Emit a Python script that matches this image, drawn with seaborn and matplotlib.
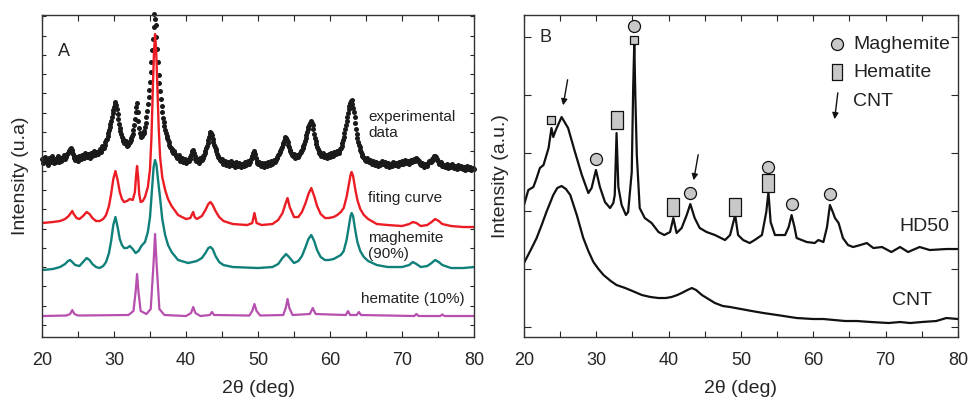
import numpy as np
import matplotlib.pyplot as plt
import seaborn as sns
from matplotlib.path import Path
from matplotlib.ticker import MultipleLocator, FixedLocator, NullFormatter

# ---------------- Panel A data (intensity in arbitrary units) ----------------
# experimental scan, 0.1 deg step from 20 to 80
exp_2theta = np.round(20 + 0.1 * np.arange(601), 1)
exp_int = [
    178, 176, 174, 179, 180, 177, 176, 174, 172, 177, 179, 176, 175, 179, 181, 177, 174, 177, 178, 175,
    176, 179, 181, 177, 175, 178, 179, 176, 177, 180, 182, 179, 178, 181, 180, 183, 184, 186, 186, 188,
    189, 187, 185, 183, 181, 179, 177, 180, 180, 178, 176, 179, 181, 178, 178, 181, 182, 180, 179, 182,
    184, 181, 180, 183, 183, 180, 179, 182, 184, 183, 181, 184, 186, 183, 182, 185, 185, 183, 183, 186,
    188, 186, 185, 188, 191, 189, 189, 192, 195, 197, 198, 201, 204, 207, 210, 213, 216, 220, 224, 227,
    230, 233, 235, 232, 228, 223, 218, 213, 209, 206, 203, 200, 198, 196, 194, 195, 196, 193, 191, 192,
    193, 194, 195, 197, 199, 201, 203, 207, 212, 218, 225, 230, 234, 225, 216, 209, 204, 202, 200, 201,
    203, 204, 206, 210, 214, 220, 226, 233, 240, 247, 255, 265, 275, 287, 298, 310, 323, 318, 312, 300,
    288, 275, 262, 254, 246, 238, 231, 225, 219, 215, 211, 207, 204, 201, 199, 197, 195, 192, 190, 189,
    188, 186, 184, 185, 186, 183, 181, 180, 179, 180, 182, 179, 176, 178, 179, 177, 175, 177, 178, 176,
    174, 176, 177, 176, 176, 178, 180, 182, 184, 186, 187, 184, 181, 178, 176, 177, 178, 176, 174, 176,
    179, 178, 177, 179, 181, 182, 184, 186, 189, 191, 194, 197, 200, 203, 205, 204, 202, 198, 195, 192,
    190, 188, 186, 183, 181, 180, 179, 177, 176, 177, 178, 175, 173, 175, 176, 174, 172, 173, 175, 173,
    171, 174, 176, 174, 172, 173, 174, 172, 170, 172, 175, 173, 171, 172, 174, 172, 170, 171, 173, 172,
    171, 173, 175, 173, 172, 174, 176, 175, 173, 175, 178, 179, 181, 184, 186, 185, 183, 179, 176, 174,
    173, 174, 175, 173, 171, 172, 174, 172, 170, 172, 174, 173, 171, 173, 175, 173, 172, 174, 176, 174,
    173, 175, 177, 176, 175, 177, 179, 180, 182, 183, 185, 186, 188, 190, 193, 194, 196, 198, 200, 199,
    197, 195, 192, 190, 187, 186, 184, 182, 181, 182, 183, 181, 179, 180, 182, 181, 180, 182, 184, 185,
    186, 187, 189, 191, 193, 196, 199, 202, 205, 208, 210, 212, 214, 215, 216, 214, 212, 208, 203, 199,
    196, 193, 190, 188, 186, 184, 183, 182, 181, 182, 184, 182, 180, 181, 182, 181, 179, 181, 183, 181,
    180, 182, 184, 183, 181, 183, 185, 184, 183, 184, 186, 185, 184, 186, 188, 189, 191, 194, 197, 200,
    204, 208, 212, 216, 220, 224, 228, 231, 234, 236, 237, 233, 229, 225, 220, 214, 208, 203, 199, 195,
    192, 190, 187, 185, 183, 181, 180, 179, 178, 177, 176, 177, 179, 177, 175, 176, 177, 175, 173, 174,
    176, 174, 172, 173, 175, 173, 171, 172, 174, 173, 172, 174, 176, 175, 173, 174, 175, 173, 171, 172,
    174, 172, 170, 171, 173, 172, 171, 173, 175, 173, 172, 173, 174, 172, 171, 173, 175, 174, 173, 175,
    176, 174, 173, 175, 177, 176, 174, 175, 176, 175, 173, 175, 177, 176, 175, 176, 178, 177, 176, 178,
    179, 178, 177, 176, 175, 173, 172, 173, 174, 172, 170, 171, 173, 172, 171, 172, 174, 175, 176, 175,
    175, 176, 178, 179, 180, 181, 181, 180, 178, 177, 176, 174, 173, 174, 175, 173, 171, 171, 172, 171,
    170, 171, 173, 171, 169, 170, 172, 171, 170, 171, 173, 171, 169, 170, 171, 169, 168, 170, 172, 170,
    169, 170, 171, 169, 168, 169, 170, 169, 167, 169, 171, 169, 168, 169, 170, 168, 167, 168, 169, 168,
    168,
]

fit_2theta = [20, 21.5, 22.5, 23.2, 23.7, 24.0, 24.2, 24.4, 24.8, 25.2, 25.7, 26.2, 26.6, 27.0, 27.5,
              28.0, 28.5, 28.9, 29.3, 29.6, 29.9, 30.2, 30.5, 30.8, 31.1, 31.4, 31.8, 32.2, 32.6, 32.9,
              33.05, 33.2, 33.35, 33.5, 33.7, 34.0, 34.3, 34.7, 35.0, 35.2, 35.4, 35.55, 35.7, 35.85, 36.0,
              36.2, 36.4, 36.7, 37.1, 37.5, 38.0, 38.9, 40.0, 40.6, 40.85, 41.0, 41.2, 41.5, 42.2, 42.7,
              43.1, 43.4, 43.7, 44.1, 44.6, 45.2, 46.5, 48.5, 49.2, 49.5, 49.8, 50.5, 52.0, 52.8, 53.4,
              53.8, 54.1, 54.4, 55.0, 55.6, 56.1, 56.6, 57.0, 57.4, 57.8, 58.2, 58.7, 59.3, 59.8, 60.5,
              61.0, 61.5, 61.9, 62.3, 62.6, 62.85, 63.0, 63.2, 63.5, 63.8, 64.2, 64.7, 65.3, 66.5, 68.0,
              70.0, 71.0, 71.5, 72.0, 72.6, 73.5, 74.1, 74.6, 75.1, 75.6, 76.8, 78.5, 80.0]
fit_int = [114, 115, 116, 118, 121, 124, 126, 123, 119, 118, 121, 125, 123, 119, 116,
           116, 118, 122, 131, 143, 158, 166, 157, 145, 138, 135, 136, 138, 137, 145,
           160, 171, 160, 143, 135, 136, 140, 150, 168, 200, 250, 285, 303, 288, 255,
           210, 180, 160, 147, 138, 131, 122, 118, 119, 123, 125, 120, 118, 121, 127,
           133, 135, 132, 126, 120, 116, 113, 112, 114, 124, 114, 112, 113, 117, 124,
           133, 139, 130, 120, 120, 125, 134, 143, 149, 141, 131, 123, 119, 119, 120,
           122, 125, 129, 140, 152, 162, 165, 161, 148, 137, 128, 122, 118, 113, 112,
           111, 113, 115, 114, 111, 112, 115, 118, 116, 113, 111, 110, 110]

mag_2theta = [20, 21.5, 22.5, 23.2, 23.6, 23.9, 24.2, 24.6, 25.2, 25.7, 26.2, 26.6, 27.0, 27.5, 28.0,
              28.5, 28.9, 29.3, 29.6, 29.9, 30.2, 30.5, 30.8, 31.1, 31.4, 31.8, 32.2, 32.6, 33.0, 33.4,
              33.8, 34.3, 34.7, 35.0, 35.3, 35.5, 35.7, 35.9, 36.1, 36.4, 36.7, 37.1, 37.5, 38.0, 38.9,
              40.3, 41.5, 42.2, 42.7, 43.1, 43.4, 43.7, 44.1, 44.6, 45.2, 46.5, 50.0, 52.0, 52.8, 53.4,
              53.9, 54.3, 55.0, 55.6, 56.1, 56.6, 57.0, 57.4, 57.8, 58.2, 58.7, 59.3, 59.8, 60.5, 61.0,
              61.5, 61.9, 62.3, 62.6, 62.85, 63.0, 63.2, 63.5, 63.8, 64.2, 64.7, 65.3, 66.5, 68.0, 70.0,
              71.0, 71.5, 72.0, 72.6, 73.5, 74.1, 74.6, 75.1, 75.6, 76.8, 78.5, 80.0]
mag_int = [67, 68, 70, 73, 76, 77, 75, 72, 71, 75, 79, 77, 73, 70, 69,
           71, 75, 84, 96, 112, 120, 110, 98, 92, 89, 89, 91, 88, 84, 86,
           91, 95, 105, 120, 150, 170, 177, 172, 158, 139, 118, 102, 92, 85, 77,
           74, 76, 79, 84, 89, 90, 88, 81, 75, 72, 70, 69, 70, 73, 79,
           83, 80, 74, 76, 81, 90, 98, 102, 96, 87, 80, 77, 77, 78, 80,
           82, 86, 97, 110, 121, 124, 121, 107, 95, 86, 80, 76, 72, 70, 70,
           72, 75, 73, 70, 71, 74, 77, 75, 72, 69, 69, 70]

hem_2theta = [20, 23.4, 23.9, 24.2, 24.5, 25.0, 32.0, 32.7, 33.0, 33.2, 33.4, 33.7, 34.5, 35.1, 35.5,
              35.7, 35.9, 36.3, 37.0, 40.0, 40.7, 41.0, 41.3, 42.0, 43.3, 43.6, 43.9, 48.8, 49.2, 49.5,
              49.8, 50.3, 53.5, 53.85, 54.1, 54.35, 54.8, 57.2, 57.6, 58.0, 62.2, 62.5, 62.8, 63.7, 64.0,
              64.3, 71.7, 72.0, 72.3, 75.3, 75.6, 75.9, 80.0]
hem_int = [21, 21.5, 23, 27, 23, 21.5, 22, 26, 45, 63, 45, 26, 23, 28, 75,
           103, 75, 28, 22, 21, 24, 30, 24, 21, 22, 25, 22, 21.5, 26, 33,
           26, 21.5, 22, 29, 38, 29, 22, 23, 29, 23, 22, 26, 22, 22, 25,
           22, 21, 23, 21, 21, 22.5, 21, 21]

# ---------------- Panel B data ----------------
hd50_2theta = [20.0, 20.6, 21.3, 21.75, 22.2, 22.7, 23.4, 23.8, 24.05, 24.4, 25.2, 26.1, 27.05, 28.0,
               28.9, 29.35, 29.95, 30.5, 31.2, 31.9, 32.35, 32.55, 32.8, 33.05, 33.5, 34.1, 34.4, 34.9,
               35.1, 35.25, 35.4, 35.6, 36.0, 36.7, 37.65, 38.6, 39.4, 40.2, 40.65, 41.1, 41.8, 42.5,
               43.0, 43.6, 44.3, 45.25, 46.4, 47.8, 48.5, 49.2, 49.6, 50.3, 51.2, 51.9, 52.9, 53.5,
               53.8, 54.1, 54.7, 56.1, 56.6, 57.0, 57.4, 57.7, 59.1, 60.2, 60.7, 61.4, 61.9, 62.3,
               62.7, 63.0, 63.5, 64.1, 64.8, 65.5, 66.5, 67.4, 68.3, 69.5, 70.8, 72.0, 73.1, 74.7,
               76.1, 78.4, 80.0]
hd50_int = [132, 147, 150, 159, 169, 172, 189, 209, 200, 207, 220, 209, 185, 162,
            144, 149, 167, 150, 135, 129, 134, 142, 204, 150, 132, 122, 125, 165,
            250, 294, 240, 182, 129, 119, 114, 105, 102, 105, 119, 104, 109, 122,
            133, 119, 109, 105, 102, 97, 102, 122, 102, 97, 94, 97, 102, 125,
            145, 115, 102, 102, 110, 122, 110, 99, 95, 94, 97, 95, 110, 132,
            125, 119, 114, 99, 92, 90, 92, 94, 89, 90, 85, 90, 85, 90,
            87, 88, 88]

cnt_2theta = [20, 21, 21.75, 22.5, 23.1, 24.05, 24.6, 25.2, 25.8, 26.4, 27.3, 28.2, 28.9, 29.6, 30.3,
              31.0, 32.0, 32.8, 34.0, 35.0, 36.3, 37.5, 38.6, 39.6, 40.4, 41.2, 41.8, 42.6, 43.2, 43.8,
              44.6, 45.5, 46.4, 47.5, 48.5, 50.0, 51.5, 53.1, 55.0, 57.7, 60.0, 61.4, 64.4, 66.0, 68.0,
              70.4, 72.0, 73.4, 75.0, 77.0, 78.4, 80.0]
cnt_int = [74, 88, 99, 113, 125, 142, 149, 151, 148, 142, 122, 99, 86, 75, 68,
           62, 56, 52, 49, 46, 42, 40, 39, 39, 40, 42, 44, 47, 49, 47,
           42, 38, 34, 31, 30, 28, 26, 24, 22, 19, 18, 18, 16, 16, 15,
           14, 15, 14, 15, 16, 19, 18]

# phase markers above the HD50 peaks
maghemite_pos = [35.25, 29.95, 43.0, 53.8, 57.0, 62.35]
maghemite_y = [311, 178, 144, 170, 133, 143]
hematite_pos = [32.8, 40.65, 49.2, 53.8]
hematite_y = [217, 130, 130, 154]
hematite_small_pos = [23.8, 35.25]
hematite_small_y = [217, 297]
cnt_arrow_pos = [25.35, 43.4]
cnt_arrow_y = [229, 154]

sns.set_style("ticks")
plt.rcParams['font.family'] = ['Liberation Sans', 'DejaVu Sans']
plt.rcParams['axes.edgecolor'] = '#333333'
plt.rcParams['axes.linewidth'] = 1.0

fig = plt.figure(figsize=(9.68, 3.97), dpi=100)
axA = fig.add_axes([0.0434, 0.1511, 0.4463, 0.811])
axB = fig.add_axes([0.5413, 0.1511, 0.4483, 0.811])

# tall rectangle marker for hematite
rect = Path([(-0.33, -0.5), (0.33, -0.5), (0.33, 0.5), (-0.33, 0.5), (-0.33, -0.5)], closed=True)
grey = '#c8c8c8'

# ---- panel A ----
sns.scatterplot(x=exp_2theta, y=exp_int, ax=axA, color='#1a1a1a', s=13, linewidth=0, clip_on=False)
sns.lineplot(x=fit_2theta, y=fit_int, ax=axA, color='#ec1c24', lw=1.7, sort=False, estimator=None)
sns.lineplot(x=mag_2theta, y=mag_int, ax=axA, color='#0f807a', lw=1.7, sort=False, estimator=None)
sns.lineplot(x=hem_2theta, y=hem_int, ax=axA, color='#b64fae', lw=1.6, sort=False, estimator=None)

txt = dict(fontsize=11, color='#222222', ha='left', va='center')
axA.text(65.3, 212, "experimental\ndata", linespacing=1.15, **txt)
axA.text(65.3, 139, "fiting curve", **txt)
axA.text(65.3, 91, "maghemite\n(90%)", linespacing=1.15, **txt)
axA.text(64.3, 38, "hematite (10%)", **txt)
axA.text(0.037, 0.888, "A", transform=axA.transAxes, fontsize=13, va='center')

axA.set_ylabel("Intensity (u.a)", fontsize=14)
axA.yaxis.set_label_coords(-0.03, 0.5)
axA.yaxis.set_major_locator(FixedLocator(np.arange(12, 322, 19.3)))
axA.yaxis.set_major_formatter(NullFormatter())
axA.tick_params(axis='y', which='both', direction='in', length=3, left=True, right=True, width=0.8)

# ---- panel B ----
sns.lineplot(x=hd50_2theta, y=hd50_int, ax=axB, color='#111111', lw=1.6, sort=False, estimator=None)
sns.lineplot(x=cnt_2theta, y=cnt_int, ax=axB, color='#111111', lw=1.6, sort=False, estimator=None)
sns.scatterplot(x=maghemite_pos, y=maghemite_y, ax=axB, marker='o', s=75, color=grey,
                edgecolor='#111111', linewidth=0.9, zorder=5)
sns.scatterplot(x=hematite_pos, y=hematite_y, ax=axB, marker=rect, s=150, color=grey,
                edgecolor='#111111', linewidth=0.9, zorder=5)
sns.scatterplot(x=hematite_small_pos, y=hematite_small_y, ax=axB, marker='s', s=30, color=grey,
                edgecolor='#111111', linewidth=0.9, zorder=5)
for xp, yp in zip(cnt_arrow_pos, cnt_arrow_y):
    axB.annotate("", xy=(xp, yp), xytext=(xp + 0.75, yp + 31),
                 arrowprops=dict(arrowstyle='-|>', color='#111111', lw=1.0, mutation_scale=9))

# legend
axB.scatter([0.7205], [0.910], transform=axB.transAxes, marker='o', s=75, color=grey,
            edgecolor='#111111', linewidth=0.9, clip_on=False)
axB.scatter([0.7205], [0.823], transform=axB.transAxes, marker=rect, s=120, color=grey,
            edgecolor='#111111', linewidth=0.9, clip_on=False)
axB.annotate("", xy=(0.715, 0.668), xytext=(0.724, 0.767), xycoords='axes fraction',
             textcoords='axes fraction',
             arrowprops=dict(arrowstyle='-|>', color='#111111', lw=1.0, mutation_scale=9))
leg = dict(transform=axB.transAxes, fontsize=14, color='#222222', ha='left', va='center')
axB.text(0.758, 0.910, "Maghemite", **leg)
axB.text(0.758, 0.823, "Hematite", **leg)
axB.text(0.758, 0.730, "CNT", **leg)

axB.text(71.85, 111, "HD50", fontsize=14, color='#222222', ha='left', va='center')
axB.text(70.9, 37, "CNT", fontsize=14, color='#222222', ha='left', va='center')
axB.text(0.035, 0.930, "B", transform=axB.transAxes, fontsize=13, va='center')

axB.set_ylabel("Intensity (a.u.)", fontsize=14)
axB.yaxis.set_label_coords(-0.035, 0.5)
axB.yaxis.set_major_locator(FixedLocator(np.arange(10, 322, 58)))
axB.yaxis.set_major_formatter(NullFormatter())
axB.tick_params(axis='y', which='both', direction='in', length=5, left=True, right=True, width=0.8)

for ax in (axA, axB):
    ax.set_xlim(20, 80)
    ax.set_ylim(0, 322)
    ax.xaxis.set_major_locator(MultipleLocator(10))
    ax.xaxis.set_minor_locator(MultipleLocator(5))
    ax.tick_params(axis='x', which='both', direction='in', length=4, top=True, bottom=True,
                   width=0.8, labelsize=13, pad=11)
    ax.set_xlabel("2θ (deg)", fontsize=14, labelpad=8)
    for sp in ax.spines.values():
        sp.set_visible(True)

fig.savefig("out.png", dpi=100)
